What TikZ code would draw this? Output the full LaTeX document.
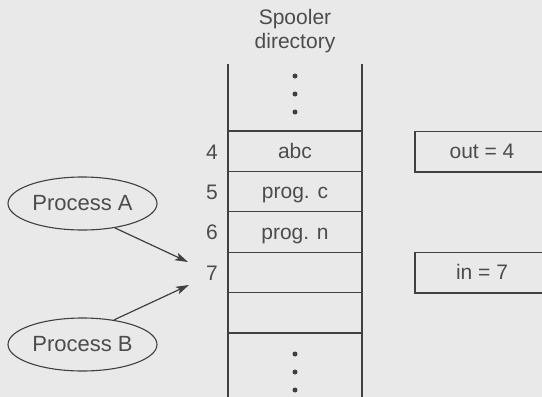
\documentclass[tikz,border=0pt]{standalone}
\usepackage{fontspec}
\setmainfont{Liberation Sans}
\usetikzlibrary{arrows.meta}
\definecolor{bg}{gray}{0.915}
\definecolor{ln}{gray}{0.25}
\definecolor{tx}{gray}{0.30}
\tikzset{
  txt/.style={text=tx, font=\fontsize{21}{24}\selectfont, inner sep=0pt},
  cell/.style={draw=ln, line width=1.2pt, minimum width=134pt, minimum height=40.4pt, inner sep=0pt, text height=16.5pt, text depth=2.5pt, text=tx, font=\fontsize{21}{24}\selectfont},
  proc/.style={ellipse, draw=ln, line width=1.1pt, minimum width=149pt, minimum height=53pt, inner sep=0pt, text=tx, font=\fontsize{22}{24}\selectfont},
  arr/.style={draw=ln, line width=1.2pt, -{Stealth[length=13pt,width=8pt,inset=3pt]}},
  dot/.style={circle, fill=ln, minimum size=5pt, inner sep=0pt},
}
\usetikzlibrary{shapes.geometric}
\begin{document}
\begin{tikzpicture}[x=1pt,y=-1pt]
\fill[bg] (0,0) rectangle (542,397);
\useasboundingbox (0,0) rectangle (542,397);
\clip (0,0) rectangle (542,397);
% title
\node[txt, align=center] (title) at (295,31) {Spooler\\directory};
% column sides
\coordinate (lt) at (228,64);
\coordinate (lb) at (228,400);
\coordinate (rt) at (362,64);
\coordinate (rb) at (362,400);
\draw[ln, line width=1.2pt] (lt) -- (lb);
\draw[ln, line width=1.2pt] (rt) -- (rb);
% top dots
\node[dot] (d1) at (295,76) {};
\node[dot] (d2) at (295,94) {};
\node[dot] (d3) at (295,112) {};
% cells
\node[cell] (c4) at (295,151.2) {abc};
\node[cell] (c5) at (295,191.6) {prog. c};
\node[cell] (c6) at (295,232.0) {prog. n};
\node[cell] (c7) at (295,272.4) {};
\node[cell] (c8) at (295,312.8) {};
% bottom dots
\node[dot] (e1) at (295,354) {};
\node[dot] (e2) at (295,372) {};
\node[dot] (e3) at (295,390) {};
% slot numbers
\node[txt] (n4) at (212,152) {4};
\node[txt] (n5) at (212,192) {5};
\node[txt] (n6) at (212,232) {6};
\node[txt] (n7) at (212,273) {7};
% shared variables
\node[cell] (out) at (482,151.8) {out = 4};
\node[cell] (in) at (482,272.8) {in = 7};
% processes
\node[proc] (pa) at (82.5,203.5) {Process A};
\node[proc] (pb) at (82.5,344.5) {Process B};
\coordinate (ta) at (188,262);
\coordinate (tb) at (189,285);
\draw[arr] (pa.-37) -- (ta);
\draw[arr] (pb.38) -- (tb);
\end{tikzpicture}
\end{document}
